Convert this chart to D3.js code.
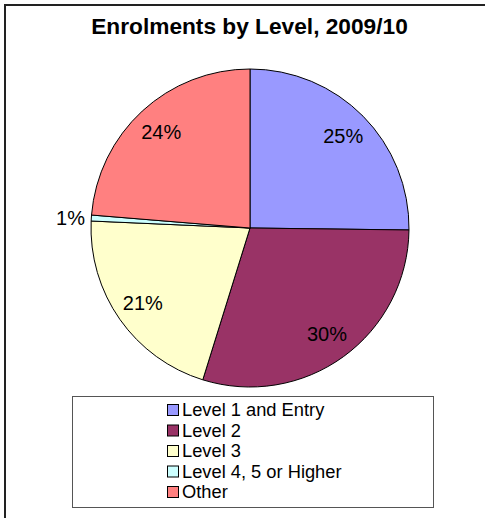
<!DOCTYPE html>
<html>
<head>
<meta charset="utf-8">
<script src="https://cdn.jsdelivr.net/npm/d3@7"></script>
<style>
  html, body { margin: 0; padding: 0; background: #fff; }
  svg { display: block; font-family: "Liberation Sans", Arial, sans-serif; }
</style>
</head>
<body>
<svg id="chart" width="485" height="518"></svg>
<script>
const categories = ["Level 1 and Entry", "Level 2", "Level 3", "Level 4, 5 or Higher", "Other"];
const values = [25.2, 29.6, 20.9, 0.6, 23.7];
const labels = ["25%", "30%", "21%", "1%", "24%"];
const colors = ["#9999FF", "#993366", "#FFFFCC", "#CCFFFF", "#FF8080"];
const title = "Enrolments by Level, 2009/10";

const svg = d3.select("#chart");

// outer frame
svg.append("rect").attr("x", 5).attr("y", 5).attr("width", 500).attr("height", 530)
  .attr("fill", "#fff").attr("stroke", "#222").attr("stroke-width", 2);

// title
svg.append("text").attr("x", 249.5).attr("y", 34).attr("text-anchor", "middle")
  .attr("font-size", 22.7).attr("font-weight", "bold").attr("fill", "#000").text(title);

const cx = 250, cy = 228, R = 159;
const data = categories.map((c, i) => ({ name: c, value: values[i], label: labels[i], color: colors[i] }));
const pie = d3.pie().value(d => d.value).sort(null);
const arcs = pie(data);
const arc = d3.arc().innerRadius(0).outerRadius(R);
const labelArc = d3.arc().innerRadius(131).outerRadius(131);

const g = svg.append("g").attr("transform", `translate(${cx},${cy})`);
g.selectAll("path").data(arcs).join("path")
  .attr("d", arc).attr("fill", d => d.data.color)
  .attr("stroke", "#000").attr("stroke-width", 1).attr("stroke-linejoin", "round");

g.selectAll("text.pl").data(arcs).join("text").attr("class", "pl")
  .each(function (d) {
    const t = d3.select(this);
    if (d.value < 2) {
      t.attr("x", 85 - cx).attr("y", 218 - cy).attr("text-anchor", "end");
    } else {
      const [x, y] = labelArc.centroid(d);
      t.attr("x", x).attr("y", y).attr("text-anchor", "middle");
    }
  })
  .attr("dy", "0.35em").attr("font-size", 20).attr("fill", "#000")
  .text(d => d.data.label);

// legend
svg.append("rect").attr("x", 72.5).attr("y", 396.5).attr("width", 361).attr("height", 111)
  .attr("fill", "#fff").attr("stroke", "#555").attr("stroke-width", 1);

const ly = d3.scalePoint().domain(categories).range([410, 492]);
const lg = svg.append("g").selectAll("g").data(data).join("g")
  .attr("transform", d => `translate(167,${ly(d.name)})`);
lg.append("rect").attr("x", 0.5).attr("y", -5.5).attr("width", 11).attr("height", 11)
  .attr("fill", d => d.color).attr("stroke", "#000").attr("stroke-width", 1);
lg.append("text").attr("x", 15).attr("y", 0).attr("dy", "0.35em")
  .attr("font-size", 18.3).attr("fill", "#000").text(d => d.name);
</script>
</body>
</html>
